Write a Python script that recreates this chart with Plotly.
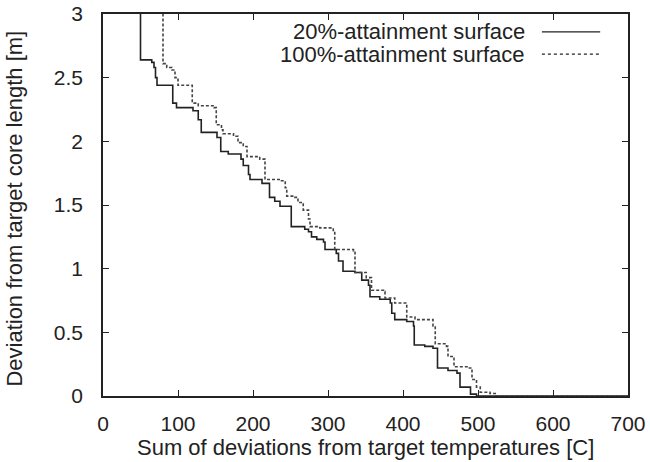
import plotly.graph_objects as go

# 20%-attainment surface (staircase corner points)
x20 = [50, 50, 65, 68, 70, 72, 93, 98, 120, 127, 131, 152, 157, 167, 184, 187, 194, 196,
       212, 222, 229, 236, 251, 269, 274, 278, 285, 294, 296, 311, 314, 320, 336, 345,
       354, 356, 369, 383, 385, 389, 405, 414, 415, 429, 440, 446, 460, 472, 476, 490, 498, 700]
y20 = [3.2, 2.64, 2.62, 2.58, 2.50, 2.44, 2.30, 2.265, 2.24, 2.17, 2.07, 2.03, 1.92, 1.90,
       1.86, 1.81, 1.74, 1.70, 1.67, 1.56, 1.53, 1.49, 1.33, 1.31, 1.29, 1.25, 1.23, 1.21,
       1.15, 1.12, 1.06, 0.98, 0.97, 0.91, 0.87, 0.78, 0.76, 0.73, 0.65, 0.60, 0.585, 0.55,
       0.40, 0.39, 0.375, 0.22, 0.20, 0.18, 0.07, 0.015, 0.0, 0.0]

# 100%-attainment surface
x100 = [80, 80, 85, 92, 96, 100, 119, 127, 148, 151, 158, 160, 174, 180, 187, 192, 209,
        216, 238, 243, 245, 256, 260, 267, 274, 276, 289, 307, 309, 334, 336, 351, 358,
        374, 376, 389, 405, 416, 440, 443, 458, 460, 468, 487, 492, 498, 503, 516, 523, 700]
y100 = [3.2, 2.61, 2.58, 2.56, 2.50, 2.44, 2.30, 2.28, 2.265, 2.13, 2.09, 2.06, 2.04, 1.99,
        1.96, 1.88, 1.86, 1.70, 1.69, 1.635, 1.57, 1.56, 1.52, 1.46, 1.39, 1.33, 1.32, 1.30,
        1.15, 1.14, 0.97, 0.93, 0.83, 0.82, 0.77, 0.73, 0.62, 0.60, 0.55, 0.41, 0.39, 0.31,
        0.23, 0.22, 0.13, 0.07, 0.03, 0.02, 0.0, 0.0]

x_ticks = [0, 100, 200, 300, 400, 500, 600, 700]
y_ticks = [0, 0.5, 1, 1.5, 2, 2.5, 3]
y_tick_text = ["0", "0.5", "1", "1.5", "2", "2.5", "3"]

labels = ["20%-attainment surface", "100%-attainment surface"]
x_title = "Sum of deviations from target temperatures [C]"
y_title = "Deviation from target core length [m]"

FONT = "Liberation Sans, Arial, sans-serif"
TXT = "#222222"

fig = go.Figure()
fig.add_trace(go.Scatter(x=x20, y=y20, mode="lines", line_shape="hv", name=labels[0],
                         line=dict(color="#222222", width=1.6), showlegend=False))
fig.add_trace(go.Scatter(x=x100, y=y100, mode="lines", line_shape="hv", name=labels[1],
                         line=dict(color="#444444", width=1.6, dash="3px,2px"), showlegend=False))

# gnuplot-style legend: right-aligned text with line sample on the right
leg_y = [0.953, 0.895]
dashes = ["solid", "dot"]
for i, lab in enumerate(labels):
    fig.add_annotation(x=0.808, y=leg_y[i], xref="paper", yref="paper", text=lab,
                       showarrow=False, xanchor="right", yanchor="middle",
                       font=dict(family=FONT, size=22, color=TXT))
    fig.add_shape(type="line", xref="paper", yref="paper", x0=0.836, x1=0.947,
                  y0=leg_y[i], y1=leg_y[i],
                  line=dict(color="#222222", width=1.3, dash=dashes[i]))

# axis titles placed like gnuplot
fig.add_annotation(x=0.5, y=-0.136, xref="paper", yref="paper", text=x_title,
                   showarrow=False, xanchor="center", yanchor="middle",
                   font=dict(family=FONT, size=22, color=TXT))
fig.add_annotation(x=-0.168, y=0.49, xref="paper", yref="paper", text=y_title,
                   showarrow=False, xanchor="center", yanchor="middle", textangle=-90,
                   font=dict(family=FONT, size=22, color=TXT))

axis_common = dict(showline=True, linecolor="#222222", linewidth=1.5, mirror="ticks",
                   ticks="inside", ticklen=6, tickcolor="#222222", tickwidth=1.3,
                   showgrid=False, zeroline=False, automargin=False,
                   tickfont=dict(family=FONT, size=21, color=TXT))

fig.update_layout(
    width=650, height=462,
    margin=dict(l=103, r=22, t=14, b=66),
    paper_bgcolor="white", plot_bgcolor="white",
    xaxis=dict(range=[0, 700], tickvals=x_ticks, ticklabelstandoff=8, **axis_common),
    yaxis=dict(range=[0, 3], tickvals=y_ticks, ticktext=y_tick_text, ticklabelstandoff=14,
               **axis_common),
)

fig.write_html("out.html")
